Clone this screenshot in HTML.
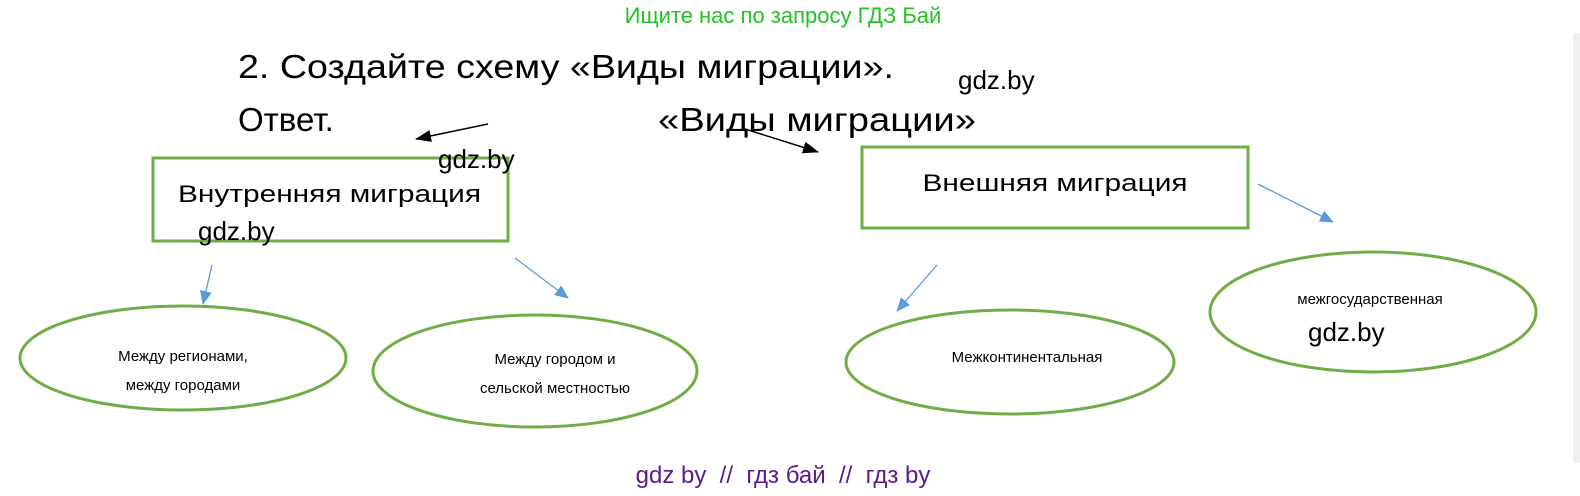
<!DOCTYPE html>
<html><head><meta charset="utf-8"><style>
html,body{margin:0;padding:0;background:#fff;}
svg{display:block;font-family:"Liberation Sans","DejaVu Sans",sans-serif;}
</style></head><body>
<svg width="1580" height="496" viewBox="0 0 1580 496" xmlns="http://www.w3.org/2000/svg">
<defs>
<marker id="ab" markerWidth="16" markerHeight="12" refX="15" refY="6" orient="auto" markerUnits="userSpaceOnUse"><path d="M0,0 L16,6 L0,12 z" fill="#000"/></marker>
<marker id="bl" markerWidth="14" markerHeight="12" refX="13" refY="6" orient="auto" markerUnits="userSpaceOnUse"><path d="M0,0 L14,6 L0,12 z" fill="#5b9bd5"/></marker>
</defs>
<rect x="1573" y="33" width="7" height="430" fill="#f0f0f0"/>
<text x="783" y="23" font-size="22" fill="#22c322" text-anchor="middle">Ищите нас по запросу ГДЗ Бай</text>
<text x="238" y="78" font-size="33" fill="#000" textLength="656" lengthAdjust="spacingAndGlyphs">2. Создайте схему «Виды миграции».</text>
<text x="238" y="131" font-size="33" fill="#000">Ответ.</text>
<text x="658" y="131" font-size="33" fill="#000" textLength="318" lengthAdjust="spacingAndGlyphs">«Виды миграции»</text>
<text x="958" y="89" font-size="26" fill="#000">gdz.by</text>
<line x1="488" y1="124" x2="416" y2="139" stroke="#000" stroke-width="1.5" marker-end="url(#ab)"/>
<line x1="745" y1="129" x2="818" y2="152" stroke="#000" stroke-width="1.5" marker-end="url(#ab)"/>
<rect x="153" y="158" width="355" height="83" fill="none" stroke="#70ad47" stroke-width="3"/>
<text x="438" y="168" font-size="26" fill="#000">gdz.by</text>
<text x="178" y="202" font-size="24" fill="#000" textLength="303" lengthAdjust="spacingAndGlyphs">Внутренняя миграция</text>
<text x="198" y="240" font-size="26" fill="#000">gdz.by</text>
<rect x="862" y="147" width="386" height="81" fill="none" stroke="#70ad47" stroke-width="3"/>
<text x="1055" y="191" font-size="24" fill="#000" text-anchor="middle" textLength="265" lengthAdjust="spacingAndGlyphs">Внешняя миграция</text>
<g stroke="#5b9bd5" stroke-width="1.3">
<line x1="212" y1="265" x2="203" y2="304" marker-end="url(#bl)"/>
<line x1="515" y1="258" x2="568" y2="298" marker-end="url(#bl)"/>
<line x1="937" y1="265" x2="897" y2="311" marker-end="url(#bl)"/>
<line x1="1258" y1="184" x2="1333" y2="222" marker-end="url(#bl)"/>
</g>
<g fill="none" stroke="#70ad47" stroke-width="3">
<ellipse cx="183" cy="358" rx="163" ry="52"/>
<ellipse cx="535" cy="371" rx="162" ry="56"/>
<ellipse cx="1010" cy="362" rx="164" ry="52"/>
<ellipse cx="1373" cy="312" rx="163" ry="60"/>
</g>
<g font-size="15" fill="#000" text-anchor="middle">
<text x="183" y="361">Между регионами,</text>
<text x="183" y="390">между городами</text>
<text x="555" y="364">Между городом и</text>
<text x="555" y="393">сельской местностью</text>
<text x="1027" y="362">Межконтинентальная</text>
<text x="1370" y="304">межгосударственная</text>
</g>
<text x="1308" y="341" font-size="26" fill="#000">gdz.by</text>
<text x="783" y="483" font-size="24" fill="#5b1a8c" text-anchor="middle" xml:space="preserve">gdz by  //  гдз бай  //  гдз by</text>
</svg>
</body></html>
